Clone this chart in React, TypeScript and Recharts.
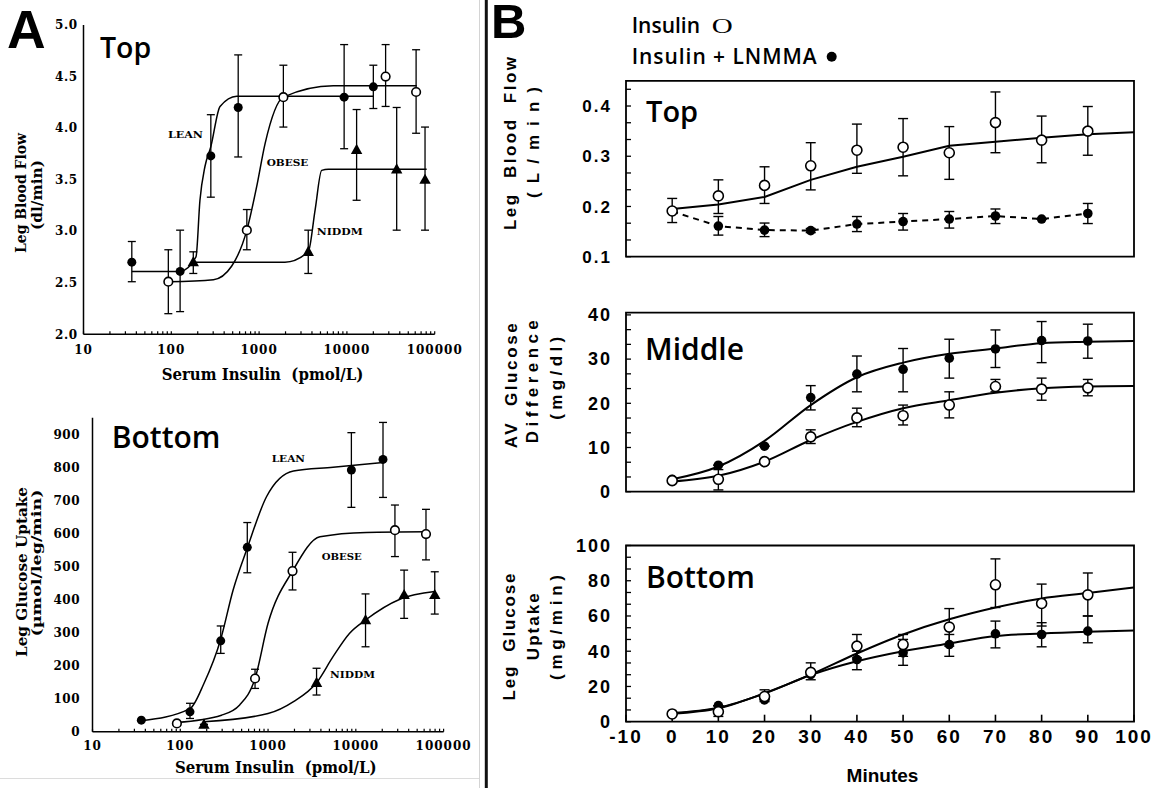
import React from 'react';
import { ComposedChart, Line, Scatter, XAxis, YAxis, ErrorBar, ReferenceArea } from 'recharts';

// ---------------- Panel A : log x axis ----------------
const A_X_TICKS = [10, 20, 30, 40, 50, 60, 70, 80, 90, 100, 200, 300, 400, 500, 600, 700, 800, 900,
  1000, 2000, 3000, 4000, 5000, 6000, 7000, 8000, 9000, 10000, 20000, 30000, 40000, 50000, 60000,
  70000, 80000, 90000, 100000];
const A_X_LABELS = [10, 100, 1000, 10000, 100000];
const A_TOP_Y_TICKS = [2, 2.5, 3, 3.5, 4, 4.5, 5];
const A_BOT_Y_TICKS = [0, 100, 200, 300, 400, 500, 600, 700, 800, 900];

// A Top (Leg Blood Flow, dl/min)
const aTopLeanX = [35.5, 126, 282, 578, 9300, 20000];
const aTopLeanY = [2.70, 2.61, 3.73, 4.20, 4.30, 4.40];
const aTopLeanLo = [2.51, 2.22, 3.33, 3.72, 3.80, 4.19];
const aTopLeanHi = [2.90, 3.01, 4.13, 4.71, 4.81, 4.61];
const aTopLeanCurveX = [35.5, 126, 191, 212, 242, 282, 359, 556, 20000];
const aTopLeanCurveY = [2.61, 2.61, 2.75, 3.30, 3.63, 3.82, 4.21, 4.31, 4.31];

const aTopObeseX = [92.5, 725, 1890, 27600, 61400];
const aTopObeseY = [2.51, 3.01, 4.30, 4.50, 4.35];
const aTopObeseLo = [2.20, 2.82, 4.01, 4.21, 3.95];
const aTopObeseHi = [2.82, 3.21, 4.61, 4.81, 4.76];
const aTopObeseCurveX = [92.5, 302, 486, 725, 937, 1170, 1890, 7000, 62400];
const aTopObeseCurveY = [2.51, 2.53, 2.66, 3.01, 3.43, 3.85, 4.30, 4.41, 4.41];

const aTopNiddmX = [178, 3630, 12900, 36900, 77600];
const aTopNiddmY = [2.70, 2.80, 3.79, 3.60, 3.50];
const aTopNiddmLo = [2.59, 2.59, 3.30, 3.01, 3.01];
const aTopNiddmHi = [2.80, 3.01, 4.18, 4.20, 4.01];
const aTopNiddmCurveX = [171, 1970, 3630, 4350, 5160, 6150, 81000];
const aTopNiddmCurveY = [2.70, 2.70, 2.80, 3.21, 3.59, 3.60, 3.60];

// A Bottom (Leg Glucose Uptake)
const aBotLeanX = [36, 129, 289, 580, 8900, 20400];
const aBotLeanY = [35, 60, 275, 558, 792, 824];
const aBotLeanLo = [35, 40, 237, 481, 679, 709];
const aBotLeanHi = [35, 86, 320, 633, 905, 936];
const aBotLeanCurveX = [36, 129, 186, 289, 400, 580, 960, 1950, 5500, 20400];
const aBotLeanCurveY = [33, 70, 146, 280, 429, 556, 711, 789, 800, 815];

const aBotObeseX = [91.5, 711, 1900, 27900, 63000];
const aBotObeseY = [25, 161, 486, 610, 598];
const aBotObeseLo = [25, 131, 429, 530, 520];
const aBotObeseHi = [25, 189, 543, 686, 673];
const aBotObeseCurveX = [91.5, 295, 475, 711, 1000, 1900, 3900, 13200, 63000];
const aBotObeseCurveY = [28, 50, 81, 161, 328, 486, 590, 603, 605];

const aBotNiddmX = [186, 3570, 12900, 35500, 79300];
const aBotNiddmY = [22, 148, 338, 414, 414];
const aBotNiddmLo = [22, 111, 257, 343, 356];
const aBotNiddmHi = [22, 192, 417, 489, 484];
const aBotNiddmCurveX = [186, 1000, 1950, 3570, 5500, 8500, 12900, 31800, 79300];
const aBotNiddmCurveY = [30, 55, 91, 148, 227, 298, 338, 401, 424];

// ---------------- Panel B : minutes ----------------
const B_X_TICKS = [-10, 0, 10, 20, 30, 40, 50, 60, 70, 80, 90, 100];
const bMinutes = [0, 10, 20, 30, 40, 50, 60, 70, 80, 90];
const bCurveMinutes = [0, 10, 20, 30, 40, 50, 60, 70, 80, 90, 100];

const B1_Y_TICKS = [0.1, 0.1333, 0.1667, 0.2, 0.2333, 0.2667, 0.3, 0.3333, 0.3667, 0.4, 0.4333];
const B2_Y_TICKS = [0, 3.333, 6.667, 10, 13.333, 16.667, 20, 23.333, 26.667, 30, 33.333, 36.667, 40];
const B3_Y_TICKS = [0, 6.667, 13.333, 20, 26.667, 33.333, 40, 46.667, 53.333, 60, 66.667, 73.333, 80, 86.667, 93.333, 100];

// B Top: Leg Blood Flow (L/min)
const b1OpenY = [0.191, 0.221, 0.242, 0.281, 0.312, 0.318, 0.307, 0.367, 0.332, 0.350];
const b1OpenLo = [0.168, 0.186, 0.206, 0.233, 0.266, 0.261, 0.254, 0.307, 0.287, 0.302];
const b1OpenHi = [0.216, 0.253, 0.279, 0.327, 0.364, 0.375, 0.359, 0.428, 0.380, 0.399];
const b1OpenCurve = [0.195, 0.204, 0.219, 0.253, 0.279, 0.299, 0.321, 0.329, 0.337, 0.344, 0.348];
const b1FillY = [0.19, 0.161, 0.153, 0.152, 0.165, 0.170, 0.175, 0.181, 0.175, 0.186];
const b1FillLo = [0.19, 0.143, 0.140, 0.148, 0.150, 0.153, 0.157, 0.166, 0.175, 0.166];
const b1FillHi = [0.19, 0.180, 0.167, 0.156, 0.180, 0.186, 0.190, 0.195, 0.175, 0.206];

// B Middle: AV Glucose Difference (mg/dl)
const b2FillY = [2.8, 6.0, 10.3, 21.3, 26.6, 27.7, 30.2, 32.3, 34.2, 34.1];
const b2FillLo = [2.8, 6.0, 10.3, 18.5, 22.6, 22.6, 25.7, 28.1, 29.2, 30.2];
const b2FillHi = [2.8, 6.0, 10.3, 24.0, 30.7, 32.4, 34.5, 36.6, 38.5, 37.9];
const b2FillCurve = [2.8, 5.7, 11.5, 19.6, 25.9, 29.2, 31.2, 32.4, 33.6, 33.9, 34.1];
const b2OpenY = [2.5, 2.8, 6.8, 12.4, 16.7, 17.2, 19.6, 23.8, 23.2, 23.5];
const b2OpenLo = [2.5, 0.4, 6.8, 10.9, 14.7, 15.1, 16.7, 22.6, 20.7, 21.7];
const b2OpenHi = [2.5, 5.0, 6.8, 14.0, 18.9, 19.6, 22.6, 25.4, 25.7, 25.4];
const b2OpenCurve = [2.3, 3.6, 6.8, 11.7, 15.8, 18.9, 20.7, 22.4, 23.4, 23.8, 23.9];

// B Bottom: Leg Glucose Uptake (mg/min)
const b3OpenY = [4.4, 5.7, 14.3, 28.0, 42.9, 43.8, 53.7, 77.7, 67.1, 72.0];
const b3OpenLo = [4.4, 3.0, 11.4, 23.8, 36.2, 37.1, 42.9, 64.8, 54.3, 60.0];
const b3OpenHi = [4.4, 9.0, 18.1, 33.4, 49.5, 49.5, 64.2, 92.4, 78.1, 84.4];
const b3OpenCurve = [4.5, 7.6, 16.2, 26.7, 38.7, 49.5, 58.1, 64.8, 69.9, 73.0, 76.2];
const b3FillY = [4.5, 9.1, 12.4, 26.7, 35.3, 39.1, 43.8, 49.9, 49.5, 51.4];
const b3FillLo = [4.5, 9.1, 12.4, 26.7, 29.5, 32.0, 37.1, 41.9, 42.5, 44.8];
const b3FillHi = [4.5, 9.1, 12.4, 26.7, 40.0, 46.7, 49.5, 57.1, 56.2, 60.0];
const b3FillCurve = [5.0, 8.0, 16.0, 26.5, 34.3, 40.0, 44.4, 48.6, 50.1, 51.1, 51.8];

// ---------------- helpers ----------------
const pts = (xs: number[], ys: number[], lo: number[], hi: number[]) =>
  xs.map((x, i) => ({ x, y: ys[i], err: [ys[i] - lo[i], hi[i] - ys[i]] }));
const line = (xs: number[], ys: number[]) => xs.map((x, i) => ({ x, y: ys[i] }));

const SERIF = '"DejaVu Serif", "Liberation Serif", serif';
const SANS = '"Liberation Sans", Arial, sans-serif';
const OPEN = '"Open Sans", sans-serif';

const filledCircle = (r: number) => (p: any) => <circle cx={p.cx} cy={p.cy} r={r} fill="#000" />;
const openCircle = (r: number) => (p: any) => (
  <circle cx={p.cx} cy={p.cy} r={r} fill="#fff" stroke="#000" strokeWidth={1.6} />
);
const triangle = (s: number) => (p: any) => (
  <polygon
    points={`${p.cx},${p.cy - s} ${p.cx - s * 0.95},${p.cy + s * 0.7} ${p.cx + s * 0.95},${p.cy + s * 0.7}`}
    fill="#000"
  />
);

const decadeFmt = (v: number) => (A_X_LABELS.includes(v) ? String(v) : '');
const aTickX = { fontFamily: SERIF, fontWeight: 700, fontSize: 12, fill: '#000', letterSpacing: 1 };
const aTickY = { fontFamily: SERIF, fontWeight: 700, fontSize: 12, fill: '#000', letterSpacing: 0.5 };
const bTick = (size: number) => ({ fontFamily: SANS, fontWeight: 700, fontSize: size, fill: '#000', letterSpacing: 2 });
const axisLine = { stroke: '#000', strokeWidth: 1.5 };
const tickLine = { stroke: '#000', strokeWidth: 1.2 };

const isMult = (v: number, step: number) => Math.abs(v / step - Math.round(v / step)) < 1e-6;

function PanelATop() {
  return (
    <ComposedChart width={472} height={400} margin={{ top: 25, right: 37.3, bottom: 35.7, left: 0 }}>
      <XAxis dataKey="x" type="number" scale="log" domain={[10, 100000]} ticks={A_X_TICKS} interval={0}
        tickFormatter={decadeFmt} tickSize={-3} tickMargin={13.7} height={30} allowDataOverflow
        axisLine={axisLine} tickLine={tickLine} tick={aTickX} />
      <YAxis type="number" domain={[2, 5]} ticks={A_TOP_Y_TICKS} interval={0} tickFormatter={(v: number) => v.toFixed(1)}
        width={83.5} tickSize={0} tickMargin={6} tickLine={false} axisLine={axisLine} tick={aTickY} allowDataOverflow />
      <Line data={line(aTopLeanCurveX, aTopLeanCurveY)} dataKey="y" type="monotone" stroke="#000" strokeWidth={1.5} dot={false} isAnimationActive={false} />
      <Line data={line(aTopObeseCurveX, aTopObeseCurveY)} dataKey="y" type="monotone" stroke="#000" strokeWidth={1.5} dot={false} isAnimationActive={false} />
      <Line data={line(aTopNiddmCurveX, aTopNiddmCurveY)} dataKey="y" type="monotone" stroke="#000" strokeWidth={1.5} dot={false} isAnimationActive={false} />
      <Scatter data={pts(aTopLeanX, aTopLeanY, aTopLeanLo, aTopLeanHi)} dataKey="y" shape={filledCircle(4.5)} isAnimationActive={false}>
        <ErrorBar dataKey="err" direction="y" width={4} stroke="#000" strokeWidth={1.3} isAnimationActive={false} />
      </Scatter>
      <Scatter data={pts(aTopObeseX, aTopObeseY, aTopObeseLo, aTopObeseHi)} dataKey="y" shape={openCircle(4.3)} isAnimationActive={false}>
        <ErrorBar dataKey="err" direction="y" width={4} stroke="#000" strokeWidth={1.3} isAnimationActive={false} />
      </Scatter>
      <Scatter data={pts(aTopNiddmX, aTopNiddmY, aTopNiddmLo, aTopNiddmHi)} dataKey="y" shape={triangle(6)} isAnimationActive={false}>
        <ErrorBar dataKey="err" direction="y" width={4} stroke="#000" strokeWidth={1.3} isAnimationActive={false} />
      </Scatter>
    </ComposedChart>
  );
}

function PanelABottom() {
  return (
    <ComposedChart width={478} height={388} margin={{ top: 17.8, right: 34.4, bottom: 26.3, left: 0 }}>
      <XAxis dataKey="x" type="number" scale="log" domain={[10, 100000]} ticks={A_X_TICKS} interval={0}
        tickFormatter={decadeFmt} tickSize={-3} tickMargin={13} height={30} allowDataOverflow
        axisLine={axisLine} tickLine={tickLine} tick={aTickX} />
      <YAxis type="number" domain={[0, 950]} ticks={A_BOT_Y_TICKS} interval={0}
        width={92.5} tickSize={0} tickMargin={12.5} tickLine={false} axisLine={axisLine} tick={aTickY} allowDataOverflow />
      <Line data={line(aBotLeanCurveX, aBotLeanCurveY)} dataKey="y" type="monotone" stroke="#000" strokeWidth={1.5} dot={false} isAnimationActive={false} />
      <Line data={line(aBotObeseCurveX, aBotObeseCurveY)} dataKey="y" type="monotone" stroke="#000" strokeWidth={1.5} dot={false} isAnimationActive={false} />
      <Line data={line(aBotNiddmCurveX, aBotNiddmCurveY)} dataKey="y" type="monotone" stroke="#000" strokeWidth={1.5} dot={false} isAnimationActive={false} />
      <Scatter data={pts(aBotLeanX, aBotLeanY, aBotLeanLo, aBotLeanHi)} dataKey="y" shape={filledCircle(4.5)} isAnimationActive={false}>
        <ErrorBar dataKey="err" direction="y" width={4} stroke="#000" strokeWidth={1.3} isAnimationActive={false} />
      </Scatter>
      <Scatter data={pts(aBotObeseX, aBotObeseY, aBotObeseLo, aBotObeseHi)} dataKey="y" shape={openCircle(4.3)} isAnimationActive={false}>
        <ErrorBar dataKey="err" direction="y" width={4} stroke="#000" strokeWidth={1.3} isAnimationActive={false} />
      </Scatter>
      <Scatter data={pts(aBotNiddmX, aBotNiddmY, aBotNiddmLo, aBotNiddmHi)} dataKey="y" shape={triangle(6)} isAnimationActive={false}>
        <ErrorBar dataKey="err" direction="y" width={4} stroke="#000" strokeWidth={1.3} isAnimationActive={false} />
      </Scatter>
    </ComposedChart>
  );
}

type BProps = {
  height: number; top: number; bottom: number; xAxisHeight: number; domain: [number, number];
  yTicks: number[]; labelStep: number; labelDigits: number; tickFont: number; showX: boolean;
  children: React.ReactNode;
};

function BPanel({ height, top, bottom, xAxisHeight, domain, yTicks, labelStep, labelDigits, tickFont, showX, children }: BProps) {
  return (
    <ComposedChart width={676} height={height} margin={{ top, right: 26, bottom, left: 0 }}>
      <XAxis dataKey="x" type="number" domain={[-10, 100]} ticks={B_X_TICKS} interval={0}
        tick={showX ? bTick(19) : false} tickSize={-7} tickMargin={15.3} height={xAxisHeight}
        axisLine={false} tickLine={{ stroke: '#000', strokeWidth: 1.6 }} allowDataOverflow />
      <YAxis type="number" domain={domain} ticks={yTicks} interval={0} width={136}
        tickFormatter={(v: number) => (isMult(v, labelStep) ? v.toFixed(labelDigits) : '')}
        tickSize={-5} tickMargin={19} axisLine={false} tickLine={{ stroke: '#000', strokeWidth: 1.3 }}
        tick={bTick(tickFont)} allowDataOverflow />
      <YAxis yAxisId="r" orientation="right" type="number" domain={domain} ticks={yTicks} interval={0} width={6}
        tick={false} tickSize={-5} axisLine={false} tickLine={{ stroke: '#000', strokeWidth: 1.3 }} allowDataOverflow />
      <ReferenceArea x1={-10} x2={100} y1={domain[0]} y2={domain[1]} fill="none" fillOpacity={0}
        stroke="#000" strokeWidth={1.8} ifOverflow="visible" />
      {children}
    </ComposedChart>
  );
}

const bErr = <ErrorBar dataKey="err" direction="y" width={5} stroke="#000" strokeWidth={1.4} isAnimationActive={false} />;

function Overlay() {
  const rot = (x: number, y: number) => `translate(${x},${y}) rotate(-90)`;
  const serifB = { fontFamily: SERIF, fontWeight: 700, fill: '#000' } as const;
  const sansB = { fontFamily: SANS, fontWeight: 700, fill: '#000' } as const;
  return (
    <svg width={1166} height={788} style={{ position: 'absolute', left: 0, top: 0, pointerEvents: 'none' }}>
      <line x1={479.5} y1={0} x2={479.5} y2={788} stroke="#d4d4d4" strokeWidth={1} />
      <line x1={0} y1={778.5} x2={479} y2={778.5} stroke="#dcdcdc" strokeWidth={1} />
      <line x1={486.3} y1={0} x2={486.3} y2={788} stroke="#111" strokeWidth={3} />

      {/* Panel A */}
      <text x={7} y={48.3} fontFamily={SANS} fontWeight={700} fontSize={53.5} fill="#000">A</text>
      <text x={100} y={57.7} fontFamily={OPEN} fontWeight={600} fontSize={28.5} fill="#000">Top</text>
      <text x={111.7} y={448} fontFamily={OPEN} fontWeight={600} fontSize={30} fill="#000">Bottom</text>

      <text transform={rot(26, 193)} textAnchor="middle" fontSize={15} textLength={120} lengthAdjust="spacingAndGlyphs" {...serifB}>Leg Blood Flow</text>
      <text transform={rot(42, 195)} textAnchor="middle" fontSize={14} textLength={70} lengthAdjust="spacingAndGlyphs" {...serifB}>(dl/min)</text>
      <text x={262.5} y={380} textAnchor="middle" fontSize={16} textLength={201.7} lengthAdjust="spacingAndGlyphs" style={{ whiteSpace: 'pre' }} {...serifB}>Serum Insulin  (pmol/L)</text>

      <text transform={rot(27, 572)} textAnchor="middle" fontSize={15} textLength={170} lengthAdjust="spacingAndGlyphs" {...serifB}>Leg Glucose Uptake</text>
      <text transform={rot(41, 563)} textAnchor="middle" fontSize={13} textLength={147} lengthAdjust="spacingAndGlyphs" {...serifB}>(µmol/leg/min)</text>
      <text x={275.8} y={773} textAnchor="middle" fontSize={16} textLength={201.7} lengthAdjust="spacingAndGlyphs" style={{ whiteSpace: 'pre' }} {...serifB}>Serum Insulin  (pmol/L)</text>

      <text x={168} y={138} fontSize={10} textLength={35} lengthAdjust="spacingAndGlyphs" {...serifB}>LEAN</text>
      <text x={266.7} y={166} fontSize={10} textLength={41.7} lengthAdjust="spacingAndGlyphs" {...serifB}>OBESE</text>
      <text x={316.7} y={235} fontSize={10} textLength={46} lengthAdjust="spacingAndGlyphs" {...serifB}>NIDDM</text>
      <text x={271.7} y={461.7} fontSize={10} textLength={33.3} lengthAdjust="spacingAndGlyphs" {...serifB}>LEAN</text>
      <text x={321.7} y={560} fontSize={10} textLength={40} lengthAdjust="spacingAndGlyphs" {...serifB}>OBESE</text>
      <text x={330} y={678.3} fontSize={10} textLength={45} lengthAdjust="spacingAndGlyphs" {...serifB}>NIDDM</text>

      {/* Panel B */}
      <text x={491} y={38.3} fontFamily={SANS} fontWeight={700} fontSize={49} fill="#000">B</text>
      <text x={631.7} y={33} fontFamily={OPEN} fontWeight={600} fontSize={21} fill="#000">Insulin</text>
      <text x={711.7} y={33.3} fontFamily='"Liberation Serif", serif' fontSize={22} textLength={21} lengthAdjust="spacingAndGlyphs" fill="#000">O</text>
      <text x={631.7} y={64.3} fontFamily={OPEN} fontWeight={600} fontSize={21} textLength={185} lengthAdjust="spacing" fill="#000">Insulin + LNMMA</text>
      <circle cx={831.7} cy={56.7} r={5} fill="#000" />

      <text x={646} y={121.7} fontFamily={OPEN} fontWeight={600} fontSize={29} fill="#000">Top</text>
      <text x={645} y={360} fontFamily={OPEN} fontWeight={600} fontSize={30} fill="#000">Middle</text>
      <text x={646} y={588.3} fontFamily={OPEN} fontWeight={600} fontSize={30} fill="#000">Bottom</text>

      <text transform={rot(516, 143.5)} textAnchor="middle" fontSize={17} textLength={173} lengthAdjust="spacing" style={{ whiteSpace: 'pre' }} {...sansB}>Leg  Blood  Flow</text>
      <text transform={rot(539, 142.5)} textAnchor="middle" fontSize={17} textLength={111} lengthAdjust="spacing" {...sansB}>(L/min)</text>

      <text transform={rot(517, 385.8)} textAnchor="middle" fontSize={17} textLength={125} lengthAdjust="spacing" style={{ whiteSpace: 'pre' }} {...sansB}>AV  Glucose</text>
      <text transform={rot(538, 381.7)} textAnchor="middle" fontSize={17} textLength={123} lengthAdjust="spacing" {...sansB}>Difference</text>
      <text transform={rot(562, 378.3)} textAnchor="middle" fontSize={17} textLength={83} lengthAdjust="spacing" {...sansB}>(mg/dl)</text>

      <text transform={rot(515, 637)} textAnchor="middle" fontSize={17} textLength={127} lengthAdjust="spacing" style={{ whiteSpace: 'pre' }} {...sansB}>Leg  Glucose</text>
      <text transform={rot(539, 626.7)} textAnchor="middle" fontSize={17} textLength={67} lengthAdjust="spacing" {...sansB}>Uptake</text>
      <text transform={rot(562, 627.5)} textAnchor="middle" fontSize={17} textLength={105} lengthAdjust="spacing" {...sansB}>(mg/min)</text>

      <text x={882.5} y={781.7} textAnchor="middle" fontSize={19} {...sansB}>Minutes</text>
    </svg>
  );
}

export default function App() {
  return (
    <div style={{ position: 'absolute', left: 0, top: 0, width: 1166, height: 788, background: '#fff', overflow: 'hidden' }}>
      <div style={{ position: 'absolute', left: 0, top: 0 }}><PanelATop /></div>
      <div style={{ position: 'absolute', left: 0, top: 400 }}><PanelABottom /></div>

      <div style={{ position: 'absolute', left: 490, top: 0 }}>
        <BPanel height={270} top={80.9} bottom={3.3} xAxisHeight={10} domain={[0.1, 0.45]} yTicks={B1_Y_TICKS}
          labelStep={0.1} labelDigits={1} tickFont={17} showX={false}>
          <Line data={line(bCurveMinutes, b1OpenCurve)} dataKey="y" type="linear" stroke="#000" strokeWidth={2} dot={false} isAnimationActive={false} />
          <Line data={line(bMinutes, b1FillY)} dataKey="y" type="linear" stroke="#000" strokeWidth={2} strokeDasharray="6 5" dot={false} isAnimationActive={false} />
          <Scatter data={pts(bMinutes, b1FillY, b1FillLo, b1FillHi)} dataKey="y" shape={filledCircle(4.8)} isAnimationActive={false}>{bErr}</Scatter>
          <Scatter data={pts(bMinutes, b1OpenY, b1OpenLo, b1OpenHi)} dataKey="y" shape={openCircle(5)} isAnimationActive={false}>{bErr}</Scatter>
        </BPanel>
      </div>

      <div style={{ position: 'absolute', left: 490, top: 270 }}>
        <BPanel height={240} top={42.7} bottom={8.3} xAxisHeight={10} domain={[0, 40.5]} yTicks={B2_Y_TICKS}
          labelStep={10} labelDigits={0} tickFont={18} showX={false}>
          <Line data={line(bCurveMinutes, b2FillCurve)} dataKey="y" type="monotone" stroke="#000" strokeWidth={2} dot={false} isAnimationActive={false} />
          <Line data={line(bCurveMinutes, b2OpenCurve)} dataKey="y" type="monotone" stroke="#000" strokeWidth={2} dot={false} isAnimationActive={false} />
          <Scatter data={pts(bMinutes, b2FillY, b2FillLo, b2FillHi)} dataKey="y" shape={filledCircle(4.8)} isAnimationActive={false}>{bErr}</Scatter>
          <Scatter data={pts(bMinutes, b2OpenY, b2OpenLo, b2OpenHi)} dataKey="y" shape={openCircle(5)} isAnimationActive={false}>{bErr}</Scatter>
        </BPanel>
      </div>

      <div style={{ position: 'absolute', left: 490, top: 500 }}>
        <BPanel height={288} top={45.5} bottom={26.3} xAxisHeight={40} domain={[0, 100]} yTicks={B3_Y_TICKS}
          labelStep={20} labelDigits={0} tickFont={18} showX={true}>
          <Line data={line(bCurveMinutes, b3OpenCurve)} dataKey="y" type="monotone" stroke="#000" strokeWidth={2} dot={false} isAnimationActive={false} />
          <Line data={line(bCurveMinutes, b3FillCurve)} dataKey="y" type="monotone" stroke="#000" strokeWidth={2} dot={false} isAnimationActive={false} />
          <Scatter data={pts(bMinutes, b3FillY, b3FillLo, b3FillHi)} dataKey="y" shape={filledCircle(4.8)} isAnimationActive={false}>{bErr}</Scatter>
          <Scatter data={pts(bMinutes, b3OpenY, b3OpenLo, b3OpenHi)} dataKey="y" shape={openCircle(5)} isAnimationActive={false}>{bErr}</Scatter>
        </BPanel>
      </div>

      <Overlay />
    </div>
  );
}
